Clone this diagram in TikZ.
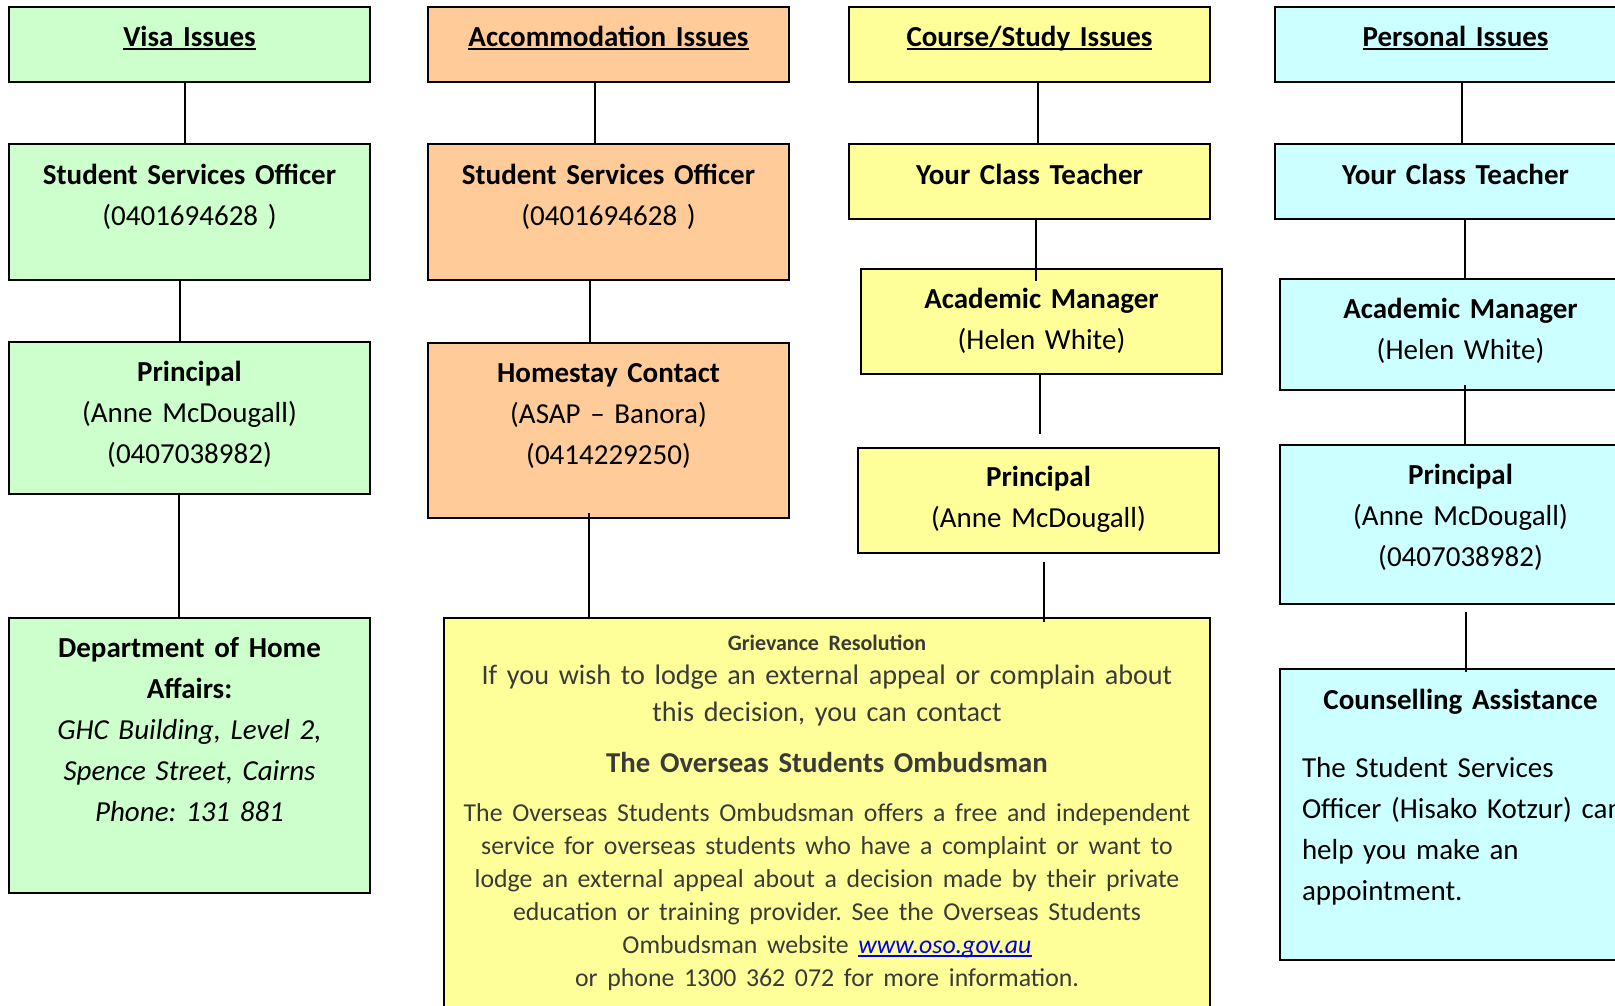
\documentclass[tikz,border=0pt]{standalone}
\usepackage{fontspec}
\setmainfont{Carlito}
\frenchspacing
\definecolor{visagreen}{HTML}{CCFFCC}
\definecolor{accorange}{HTML}{FFCC99}
\definecolor{courseyellow}{HTML}{FFFF99}
\definecolor{personalcyan}{HTML}{CCFFFF}
\definecolor{grievgray}{HTML}{3A3A3A}
\definecolor{linkblue}{HTML}{0000EE}
\newsavebox{\ulinebox}
\newcommand{\fixul}[2][black]{\sbox{\ulinebox}{#2}\rlap{\color{#1}\rule[-4pt]{\wd\ulinebox}{1.8pt}}\usebox{\ulinebox}}
\tikzset{
  box/.style={draw=black, line width=2pt, anchor=north west, inner sep=0pt,
    text width=361pt, align=center, font=\fontsize{29}{41}\selectfont},
  link/.style={draw=black, line width=1.5pt},
}

\begin{document}
\begin{tikzpicture}[x=1pt, y=-1pt]
  \useasboundingbox[fill=white] (0,0) rectangle (1615,1005);
  % visa column
  \node[box, fill=visagreen, text height=39pt, text depth=36pt] (visa) at (8,6) {\fixul{\textbf{Visa Issues}}};
  \node[box, fill=visagreen, text height=40pt, text depth=96pt] (sso1) at (8,143) {\textbf{Student Services Officer}\\(0401694628 )};
  \node[box, fill=visagreen, text height=39pt, text depth=113pt] (prin1) at (8,341) {\textbf{Principal}\\(Anne McDougall)\\(0407038982)};
  \node[box, fill=visagreen, text height=39pt, text depth=236pt] (dept) at (8,617) {\textbf{Department of Home}\\\textbf{Affairs:}\\\textit{GHC Building, Level 2,}\\\textit{Spence Street, Cairns}\\\textit{Phone: 131 881}};
  % accommodation column
  \node[box, fill=accorange, text height=39pt, text depth=36pt] (acc) at (427,6) {\fixul{\textbf{Accommodation Issues}}};
  \node[box, fill=accorange, text height=40pt, text depth=96pt] (sso2) at (427,143) {\textbf{Student Services Officer}\\(0401694628 )};
  \node[box, fill=accorange, text height=39pt, text depth=136pt] (home) at (427,342) {\textbf{Homestay Contact}\\(ASAP -- Banora)\\(0414229250)};
  % course column
  \node[box, fill=courseyellow, text height=39pt, text depth=36pt] (course) at (848,6) {\fixul{\textbf{Course/Study Issues}}};
  \node[box, fill=courseyellow, text height=40pt, text depth=35pt] (yct3) at (848,143) {\textbf{Your Class Teacher}};
  \node[box, fill=courseyellow, text height=39pt, text depth=66pt] (am3) at (860,268) {\textbf{Academic Manager}\\(Helen White)};
  \node[box, fill=courseyellow, text height=38pt, text depth=67pt] (prin3) at (857,447) {\textbf{Principal}\\(Anne McDougall)};
  % personal column
  \node[box, fill=personalcyan, text height=39pt, text depth=36pt] (pers) at (1274,6) {\fixul{\textbf{Personal Issues}}};
  \node[box, fill=personalcyan, text height=40pt, text depth=35pt] (yct4) at (1274,143) {\textbf{Your Class Teacher}};
  \node[box, fill=personalcyan, text height=39pt, text depth=72pt] (am4) at (1279,278) {\textbf{Academic Manager}\\(Helen White)};
  \node[box, fill=personalcyan, text height=39pt, text depth=120pt] (prin4) at (1279,444) {\textbf{Principal}\\(Anne McDougall)\\(0407038982)};
  \node[box, fill=personalcyan, text height=40pt, text depth=251pt, text width=360pt, inner xsep=22pt, align=left] (couns) at (1279,668)
    {\makebox[317pt]{\textbf{Counselling Assistance}}\\[27pt]The Student Services\\Officer (Hisako Kotzur) can\\help you make an\\appointment.};
  % grievance box
  \node[box, fill=courseyellow, text=grievgray, text width=766pt, text height=32pt, text depth=400pt] (griev) at (443,617)
    {{\fontsize{22}{24}\selectfont\textbf{Grievance Resolution}}\\
     \fontsize{28.2}{34}\selectfont If you wish to lodge an external appeal or complain about\\[3pt]
     this decision, you can contact\\[17pt]
     {\fontsize{28.8}{34}\selectfont\textbf{The Overseas Students Ombudsman}}\\[16pt]
     \fontsize{25.8}{33}\selectfont The Overseas Students Ombudsman offers a free and independent\\
     service for overseas students who have a complaint or want to\\
     lodge an external appeal about a decision made by their private\\
     education or training provider. See the Overseas Students\\
     Ombudsman website \fixul[linkblue]{\textcolor{linkblue}{\textit{www.oso.gov.au}}}\\[-8pt]
     or phone 1300 362 072 for more information.};
  % connectors
  \draw[link] ([xshift=-4.5pt]visa.south) -- ([xshift=-4.5pt]sso1.north);
  \draw[link] ([xshift=-9.5pt]sso1.south) -- ([xshift=-9.5pt]prin1.north);
  \draw[link] ([xshift=-10.5pt]prin1.south) -- ([xshift=-10.5pt]dept.north);
  \draw[link] ([xshift=-13.5pt]acc.south) -- ([xshift=-13.5pt]sso2.north);
  \draw[link] ([xshift=-18.5pt]sso2.south) -- ([xshift=-18.5pt]home.north);
  \draw[link, shorten <=-6pt] ([xshift=-19.5pt]home.south) -- ([xshift=-19.5pt]home.south |- griev.north);
  \draw[link] ([xshift=8.5pt]course.south) -- ([xshift=8.5pt]yct3.north);
  \draw[link, shorten >=-13pt] ([xshift=6.5pt]yct3.south) -- ([xshift=6.5pt]yct3.south |- am3.north);
  \draw[link, shorten >=13pt] ([xshift=-1.5pt]am3.south) -- ([xshift=-1.5pt]am3.south |- prin3.north);
  \draw[link, shorten <=8pt, shorten >=-5pt] ([xshift=5.5pt]prin3.south) -- ([xshift=5.5pt]prin3.south |- griev.north);
  \draw[link] ([xshift=6.5pt]pers.south) -- ([xshift=6.5pt]yct4.north);
  \draw[link] ([xshift=9.5pt]yct4.south) -- ([xshift=9.5pt]yct4.south |- am4.north);
  \draw[link, shorten <=-6pt] ([xshift=4.5pt]am4.south) -- ([xshift=4.5pt]prin4.north);
  \draw[link, shorten <=7pt, shorten >=-4pt] ([xshift=5.5pt]prin4.south) -- ([xshift=5.5pt]prin4.south |- couns.north);
\end{tikzpicture}
\end{document}
